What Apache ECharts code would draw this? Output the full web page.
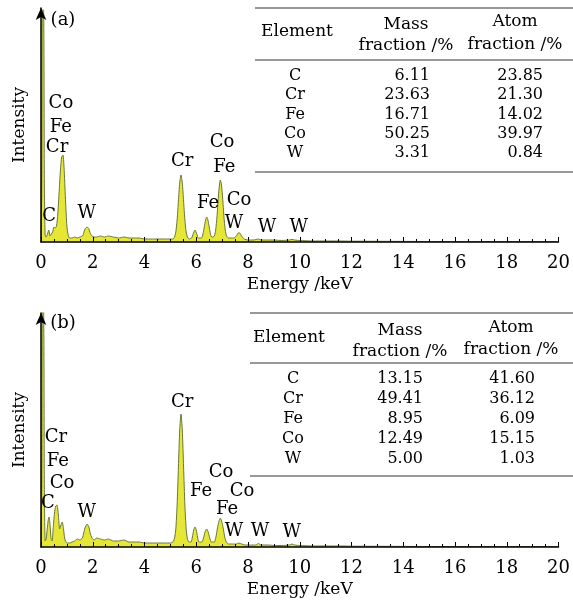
<!DOCTYPE html>
<html><head><meta charset="utf-8">
<script src="https://cdn.jsdelivr.net/npm/echarts@6/dist/echarts.min.js"></script>
<style>html,body{margin:0;padding:0;background:#fff;}#c{width:573px;height:602px;}</style>
</head><body><div id="c"></div>
<script>
// ---------- data ----------
const spectrumA = [
  [0,0],[0.03,50],[0.05,232],[0.1,232],[0.13,60],[0.16,6],[0.2,5],[0.25,8],[0.3,12],[0.35,6],
  [0.4,8],[0.45,10],[0.5,15],[0.55,14],[0.6,16],[0.65,28],[0.7,50],[0.75,72],[0.8,85],[0.85,87],
  [0.9,70],[0.95,40],[1.0,16],[1.05,7],[1.1,4],[1.2,4],[1.3,5],[1.4,4],[1.5,5],[1.6,6],
  [1.65,9],[1.7,13],[1.78,15],[1.85,13],[1.9,9],[1.97,6],[2.05,5],[2.15,5],[2.3,6],[2.45,5],
  [2.6,6],[2.8,5],[3.0,4],[3.2,5],[3.4,4],[3.6,4],[3.8,4],[4.0,3],[4.2,3],[4.4,3],
  [4.6,3],[4.8,3],[5.0,3],[5.1,3],[5.16,5],[5.21,10],[5.26,22],[5.31,41],[5.36,59],[5.41,67],
  [5.46,59],[5.51,41],[5.56,22],[5.61,10],[5.66,5],[5.72,3],[5.82,4],[5.88,8],[5.95,12],[6.02,8],
  [6.08,4],[6.2,4],[6.26,8],[6.31,15],[6.36,22],[6.4,25],[6.45,22],[6.5,15],[6.55,8],[6.6,5],
  [6.65,5],[6.7,6],[6.75,12],[6.8,25],[6.85,44],[6.9,58],[6.93,62],[6.97,58],[7.02,44],[7.07,25],
  [7.12,12],[7.17,6],[7.25,4],[7.35,4],[7.45,4],[7.55,6],[7.62,9],[7.68,9],[7.75,6],[7.85,3],
  [8.0,2],[8.2,2],[8.4,3],[8.5,2],[8.8,2],[9.0,2],[9.3,1.5],[9.6,2],[9.7,2.5],[9.8,2],
  [10.0,1.5],[10.5,1],[11,1],[11.5,1],[12,0.8],[13,0.7],[14,0.6],[15,0.5],[16,0.5],[17,0.5],
  [18,0.5],[19,0.5],[20,0.5]
];
const spectrumB = [
  [0,0],[0.03,60],[0.05,236],[0.1,236],[0.13,60],[0.16,6],[0.2,8],[0.24,18],[0.28,27],[0.31,30],
  [0.35,22],[0.39,8],[0.43,6],[0.47,18],[0.52,34],[0.57,41],[0.62,42],[0.67,32],[0.72,18],[0.77,22],
  [0.82,25],[0.87,18],[0.92,8],[1.0,4],[1.1,4],[1.2,5],[1.3,6],[1.4,8],[1.5,7],[1.6,9],
  [1.65,14],[1.7,19],[1.78,23],[1.85,20],[1.9,14],[1.97,9],[2.05,7],[2.15,9],[2.3,8],[2.45,7],
  [2.6,8],[2.8,6],[3.0,6],[3.2,7],[3.4,5],[3.6,5],[3.8,5],[4.0,4],[4.2,4],[4.4,4],
  [4.6,4],[4.8,4],[5.0,4],[5.1,5],[5.16,9],[5.21,18],[5.26,42],[5.31,80],[5.36,117],[5.41,133],
  [5.46,117],[5.51,80],[5.56,42],[5.61,18],[5.66,8],[5.72,5],[5.8,5],[5.85,10],[5.9,17],[5.95,20],
  [6.0,17],[6.05,10],[6.1,5],[6.16,5],[6.22,5],[6.28,9],[6.34,15],[6.4,18],[6.46,15],[6.52,9],
  [6.58,5],[6.64,5],[6.7,5],[6.76,10],[6.82,19],[6.88,26],[6.93,29],[6.98,26],[7.04,19],[7.1,10],
  [7.16,5],[7.25,3],[7.4,3],[7.55,3],[7.65,4],[7.75,3],[7.9,2],[8.1,2],[8.3,2],[8.4,3.5],
  [8.5,2],[8.8,2],[9.0,1.5],[9.3,1.5],[9.6,2],[9.7,3],[9.8,2],[10.0,1.5],[10.5,1],[11,1],
  [11.5,1],[12,0.8],[13,0.7],[14,0.6],[15,0.5],[16,0.5],[17,0.5],[18,0.5],[19,0.5],[20,0.5]
];
// peak labels: [energy, intensity, text]
const peakLabelsA = [
  [0.85,222,'(a)'],[0.77,139,'Co'],[0.77,115,'Fe'],[0.62,95,'Cr'],[0.31,26,'C'],[1.77,29,'W'],
  [5.46,81,'Cr'],[7.0,100,'Co'],[7.08,75,'Fe'],[6.46,39,'Fe'],[7.65,42,'Co'],[7.46,19,'W'],
  [8.73,15,'W'],[9.96,15,'W']
];
const peakLabelsB = [
  [0.85,224,'(b)'],[0.58,110,'Cr'],[0.65,86,'Fe'],[0.81,64,'Co'],[0.27,44,'C'],[1.77,35,'W'],
  [5.46,145,'Cr'],[6.96,75,'Co'],[6.19,56,'Fe'],[7.77,56,'Co'],[7.19,38,'Fe'],[7.46,16,'W'],
  [8.46,16,'W'],[9.69,15,'W']
];
const xTickStep = 2;
const elements = ['C','Cr','Fe','Co','W'];
const massA = ['6.11','23.63','16.71','50.25','3.31'];
const atomA = ['23.85','21.30','14.02','39.97','0.84'];
const massB = ['13.15','49.41','8.95','12.49','5.00'];
const atomB = ['41.60','36.12','6.09','15.15','1.03'];
const headers = ['Element','Mass','fraction /%','Atom','fraction /%'];

// ---------- chart ----------
const FONT = '"DejaVu Serif", serif';
const chart = echarts.init(document.getElementById('c'), null, {renderer:'canvas'});

function xAx(i){
  return {
    type:'value', gridIndex:i, min:0, max:20, interval:xTickStep, z:3,
    axisLine:{show:true, lineStyle:{color:'#000', width:1.5}},
    axisTick:{show:true, inside:true, length:5, lineStyle:{color:'#000', width:1}},
    minorTick:{show:true, splitNumber:4, length:3, lineStyle:{color:'#000', width:1}},
    splitLine:{show:false}, minorSplitLine:{show:false},
    axisLabel:{fontFamily:FONT, fontSize:18, color:'#000', margin:12},
    name:'Energy /keV', nameLocation:'middle', nameGap:34,
    nameTextStyle:{fontFamily:FONT, fontSize:17, color:'#000'}
  };
}
function yAx(i){
  return {
    type:'value', gridIndex:i, min:0, max:234, z:3,
    axisLine:{show:true, symbol:['none','arrow'], symbolSize:[8,12], lineStyle:{color:'#000', width:1.5}},
    axisTick:{show:false}, axisLabel:{show:false}, splitLine:{show:false},
    name:'Intensity', nameLocation:'middle', nameRotate:90, nameGap:13,
    nameTextStyle:{fontFamily:FONT, fontSize:17, color:'#000'}
  };
}
function spec(i, data){
  return {
    type:'line', xAxisIndex:i, yAxisIndex:i, data:data, showSymbol:false, smooth:0.2,
    lineStyle:{color:'#66773f', width:1}, areaStyle:{color:'#e6e636', opacity:1}, z:2, silent:true
  };
}
function labels(i, arr){
  return {
    type:'scatter', xAxisIndex:i, yAxisIndex:i, symbolSize:0, z:5, silent:true,
    itemStyle:{opacity:1},
    data: arr.map(l => ({value:[l[0], l[1]], name:l[2]})),
    label:{show:true, position:'inside', formatter:'{b}', fontFamily:FONT, fontSize:18, color:'#000', opacity:1}
  };
}

function table(cfg, mass, atom){
  const g = [];
  const ln = (y) => ({type:'line', shape:{x1:cfg.lineX, y1:y, x2:573, y2:y}, style:{stroke:'#333', lineWidth:1.2}, z:10});
  const tx = (t, x, y, align, size) => ({type:'text', x:x, y:y, z:10,
      style:{text:t, textAlign:align||'center', textVerticalAlign:'middle', font:(size||16) + 'px ' + FONT, fill:'#000'}});
  g.push(ln(cfg.top), ln(cfg.headLine), ln(cfg.bottom));
  g.push(tx(headers[0], cfg.hElemX, cfg.hElemY, 'center', 17));
  g.push(tx(headers[1], cfg.hMassX, cfg.hMassY1, 'center', 17));
  g.push(tx(headers[2], cfg.hMassX, cfg.hMassY2, 'center', 17));
  g.push(tx(headers[3], cfg.hAtomX, cfg.hAtomY1, 'center', 17));
  g.push(tx(headers[4], cfg.hAtomX, cfg.hAtomY2, 'center', 17));
  elements.forEach((e, k) => {
    const y = cfg.row0 + k*cfg.rowStep;
    g.push(tx(e, cfg.elemX, y));
    g.push(tx(mass[k], cfg.massR, y, 'right'));
    g.push(tx(atom[k], cfg.atomR, y, 'right'));
  });
  return g;
}
const cfgA = {top:8, headLine:60, bottom:172, lineX:255, row0:76, rowStep:19.2, elemX:295, massR:430, atomR:543,
  hElemX:297, hElemY:32, hMassX:406, hMassY1:25, hMassY2:46, hAtomX:515, hAtomY1:22, hAtomY2:45};
const cfgB = {top:313, headLine:363, bottom:476, lineX:250, row0:378.5, rowStep:20, elemX:293, massR:423, atomR:535,
  hElemX:289, hElemY:338, hMassX:400, hMassY1:331, hMassY2:352, hAtomX:511, hAtomY1:328, hAtomY2:350};

chart.setOption({
  animation:false,
  backgroundColor:'#fff',
  grid:[{left:41, right:12, top:8, height:234}, {left:41, right:12, top:313, height:234}],
  xAxis:[xAx(0), xAx(1)],
  yAxis:[yAx(0), yAx(1)],
  series:[spec(0, spectrumA), spec(1, spectrumB), labels(0, peakLabelsA), labels(1, peakLabelsB)],
  graphic: table(cfgA, massA, atomA).concat(table(cfgB, massB, atomB))
});
</script>
</body></html>
